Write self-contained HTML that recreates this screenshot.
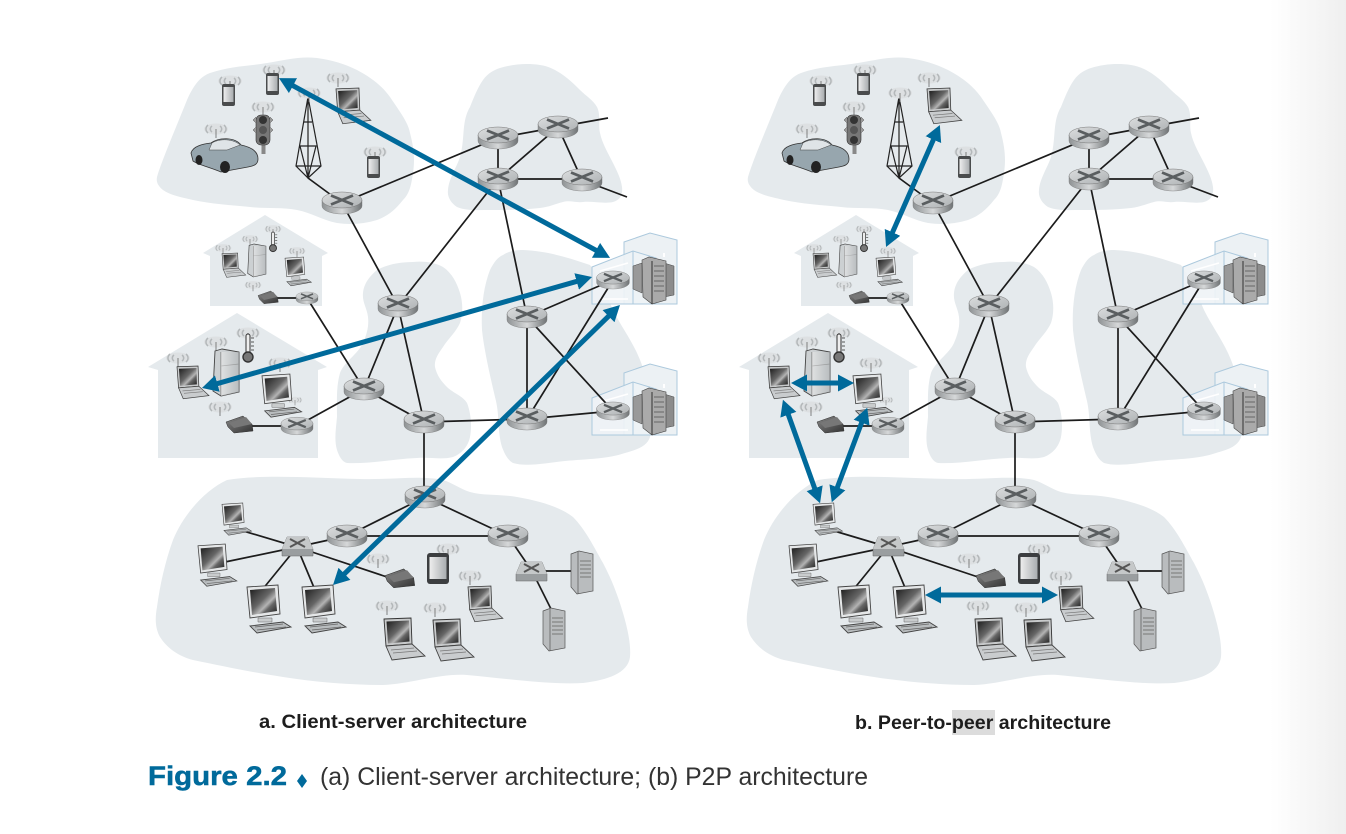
<!DOCTYPE html>
<html><head><meta charset="utf-8"><style>
html,body{margin:0;padding:0;background:#fff}
svg{display:block}
</style></head><body>
<svg xmlns="http://www.w3.org/2000/svg" width="1346" height="834" viewBox="0 0 1346 834">
<defs>
<linearGradient id="edge" x1="0" x2="1" y1="0" y2="0"><stop offset="0" stop-color="#fff"/><stop offset="1" stop-color="#efefef"/></linearGradient>
<linearGradient id="rim" x1="0" x2="1" y1="0" y2="0"><stop offset="0" stop-color="#8e9294"/><stop offset=".5" stop-color="#d6d8d9"/><stop offset="1" stop-color="#6f7375"/></linearGradient>
<linearGradient id="top" x1="0" x2="1" y1="0" y2="1"><stop offset="0" stop-color="#dcdedf"/><stop offset="1" stop-color="#aeb2b4"/></linearGradient>
<linearGradient id="scr" x1="0" x2="1" y1="0" y2="1"><stop offset="0" stop-color="#1c1c1c"/><stop offset=".45" stop-color="#666"/><stop offset=".62" stop-color="#b4b4b4"/><stop offset=".72" stop-color="#666"/><stop offset="1" stop-color="#1c1c1c"/></linearGradient>
<linearGradient id="dev" x1="0" x2="1" y1="0" y2="0"><stop offset="0" stop-color="#eee"/><stop offset="1" stop-color="#a9adb0"/></linearGradient>
<linearGradient id="mod" x1="0" x2="1" y1="0" y2="1"><stop offset="0" stop-color="#888"/><stop offset="1" stop-color="#333"/></linearGradient>
<marker id="ah" markerUnits="userSpaceOnUse" markerWidth="20" markerHeight="20" refX="4" refY="10" orient="auto-start-reverse" viewBox="0 0 20 20"><path d="M0 1.500L16 10L0 18.500Z" fill="#006a9b"/></marker>

<g id="router"><path d="M-20-3v6a20 8 0 0 0 40 0v-6z" fill="url(#rim)" stroke="#777" stroke-width=".4"/><ellipse cy="-3" rx="20" ry="8" fill="url(#top)" stroke="#777" stroke-width=".5"/><path d="M-11-7.500L11 1.500M11-7.500L-11 1.500" stroke="#5a5e60" stroke-width="2.800" fill="none"/></g>
<g id="wifi" fill="none"><ellipse rx="12" ry="5.500" fill="#dde0e2"/><path d="M-4-3a5 4 0 0 0 0 6M4-3a5 4 0 0 1 0 6M-8-4a8 6 0 0 0 0 8M8-4a8 6 0 0 1 0 8" stroke="#b4b8ba" stroke-width="1.500"/><path d="M0 0v9" stroke="#666" stroke-width=".8"/></g>
<g id="desk"><path d="M0 2L31 0L33 29L3 33Z" fill="#e5e7e8" stroke="#444" stroke-width=".9"/><path d="M3 5L28 3L30 26L5 30Z" fill="url(#scr)"/><path d="M11 33h14v4h-14z" fill="#c9cccd" stroke="#666" stroke-width=".5"/><path d="M3 41L36 37L44 42L10 48Z" fill="#b9bdbf" stroke="#444" stroke-width=".9"/><path d="M8 42L36 39M10 45L39 42" stroke="#666" stroke-width=".7"/></g>
<g id="lap"><path d="M0 1L27 0L28 26L2 28Z" fill="#c8cacb" stroke="#333" stroke-width=".9"/><path d="M2.500 3.500L25 2.500L25.500 23.500L4 25.500Z" fill="url(#scr)"/><path d="M2 28L28 26L41 38L8 42Z" fill="#c9ccce" stroke="#444" stroke-width=".9"/><path d="M7 32L30 30M9 35L33 33" stroke="#777" stroke-width=".8"/></g>
<g id="fridge"><path d="M3 2L10 0L27 3V43L9 47L1 42Z" fill="#ccd0d2" stroke="#444" stroke-width=".9"/><path d="M9 3V47" stroke="#666" stroke-width=".8"/><path d="M9 17L27 15" stroke="#777" stroke-width=".7"/><path d="M9 3L27 3V43L9 47Z" fill="url(#dev)" opacity=".55"/></g>
<g id="therm"><path d="M-2-18a2 2 0 0 1 4 0V0h-4z" fill="#eee" stroke="#333" stroke-width="1"/><circle r="5" cy="3" fill="#777" stroke="#333" stroke-width="1.400"/><path d="M3-16h3M3-12h3M3-8h3M3-4h3" stroke="#555"/></g>
<g id="modem"><path d="M0 6L17 0L26 8L27 15L8 17L2 11Z" fill="url(#mod)" stroke="#333" stroke-width=".5"/><path d="M3 7L20 1L26 8L8 12Z" fill="#777"/></g>
<g id="phone"><rect width="13" height="22" rx="2" fill="#4a4c4d"/><rect x="1.500" y="3" width="10" height="15" fill="url(#dev)"/></g>
<g id="tablet"><rect width="22" height="31" rx="3" fill="#3c3e40"/><rect x="2.500" y="4" width="17" height="22" fill="url(#dev)"/></g>
<g id="tower"><path d="M0 3L8 0L22 3V40L6 43L0 36Z" fill="#b9bcbe" stroke="#555" stroke-width=".7"/><path d="M7 1V43" stroke="#555" stroke-width=".7"/><path d="M9 10H20M9 14H20M9 18H20M9 22H20M9 26H20" stroke="#777"/></g>
<g id="switch"><path d="M5 0H26L31 12V19H0V12Z" fill="#9a9ea0" stroke="#666" stroke-width=".5"/><path d="M5 0H26L31 12H0Z" fill="#c5c8c9"/><path d="M8 2L23 10M23 2L8 10" stroke="#555" stroke-width="2"/></g>
<g id="dc"><path d="M32 9L58 0L85 7V71H32Z" fill="#ecf1f4" stroke="#acc9dd" stroke-width="1"/><path d="M0 34L41 18L64 25V71H0Z" fill="#eef3f6" fill-opacity=".9" stroke="#acc9dd" stroke-width="1"/><path d="M41 18V71" stroke="#acc9dd"/><path d="M8 38L36 30M8 66H36" stroke="#fff" stroke-width="1.500"/><path d="M72 20V50" stroke="#fff" stroke-width="2" stroke-dasharray="4 3"/>
<path d="M41 33L50 30V60L41 56Z" fill="#999" stroke="#444" stroke-width=".5"/><path d="M72 30L82 33V62L72 64Z" fill="#8c8c8c" stroke="#444" stroke-width=".5"/><path d="M50 27L57 24L74 28V67L60 71L51 64Z" fill="#aaa" stroke="#444" stroke-width=".6"/><path d="M60 28V71" stroke="#333"/><path d="M62 33H72M62 38H72M62 43H72M62 48H72M62 53H72M62 58H72" stroke="#666"/></g>
<g id="car"><path d="M0 18C2 11 12 9 20 8C28 2 44 2 50 10C60 12 67 16 67 24C67 30 62 31 57 32L30 37C18 32 8 30 2 26Z" fill="#97a6ae" stroke="#333" stroke-width=".8"/><path d="M21 8C29 3 43 4 49 10L36 15L18 15Z" fill="#dfe4e7" stroke="#444" stroke-width=".5"/><ellipse cx="34" cy="32" rx="5" ry="6" fill="#222"/><ellipse cx="8" cy="25" rx="3.500" ry="5" fill="#222"/></g>
<g id="light"><path d="M-1.500 20h4v19h-4z" fill="#888"/><rect x="-7" y="0" width="14" height="30" rx="5" fill="#777" stroke="#333" stroke-width=".6"/><circle cy="5" r="4" fill="#333"/><circle cy="15" r="4" fill="#555"/><circle cy="25" r="4" fill="#333"/><path d="M-7 2l-3 3 3 3M7 2l3 3-3 3M-7 12l-3 3 3 3M7 12l3 3-3 3" fill="#999" stroke="#555" stroke-width=".5"/></g>

<g id="net">
<g fill="#e5eaed">
<path d="M157 177C162 160 175 130 187 100C195 82 202 76 210 73C230 66 250 66 267 63C285 60 300 56 317 58C332 60 345 64 357 70C372 78 382 86 390 97C400 112 408 122 410 133C414 148 415 160 413 173C411 187 409 194 403 200C395 210 388 216 377 220C364 224 350 225 337 223C322 220 312 213 297 210C282 207 266 209 250 207C230 205 212 204 193 200C180 197 170 195 163 190C158 186 156 182 157 177Z"/>
<path d="M464 127C465 118 467 112 470 107C474 97 478 87 483 80C488 73 494 70 500 68C513 64 527 63 540 65C548 66 556 70 563 75C570 80 575 85 580 90C586 96 593 100 597 107C601 115 598 125 600 133C602 143 608 153 613 163C617 171 621 179 622 187C623 195 620 200 613 202C604 204 593 201 583 202C576 203 570 200 563 202C555 204 549 207 540 208C523 210 506 210 490 210C478 210 466 211 457 207C451 203 447 197 448 190C449 178 456 169 460 157C463 146 463 136 464 127Z"/>
<path d="M413 262C423 261 434 262 443 267C452 273 457 283 460 293C463 303 463 314 460 323C456 332 448 339 443 347C438 354 434 360 435 367C437 376 442 382 447 387C453 393 463 396 467 403C471 413 472 426 470 437C468 447 461 454 453 457C442 460 430 457 417 458C394 459 370 464 347 463C342 462 339 456 337 450C334 440 336 428 337 417C337 402 336 387 340 373C344 362 358 354 363 343C367 334 369 326 368 317C367 308 362 302 363 293C364 283 370 276 377 270C388 264 401 262 413 262Z"/>
<path d="M523 250C548 251 569 258 590 265C600 279 607 296 613 310C621 326 630 338 637 353C644 368 650 388 650 403C651 418 652 428 650 437C647 447 635 450 625 453C608 459 586 459 565 461C547 463 526 467 513 463C508 460 505 455 502 447C497 430 500 415 495 397C491 380 484 350 482 330C481 310 483 288 490 270C494 262 498 257 503 255C509 251 516 250 523 250Z"/>
<path d="M227 480C265 474 310 478 360 479C390 480 420 475 443 480C453 483 460 489 470 492C485 496 500 494 517 497C540 501 560 507 573 517C585 529 594 547 603 563C612 580 618 596 623 613C628 630 631 645 630 657C628 673 608 680 583 683C552 685 510 679 467 675C440 673 410 684 383 685C350 685 315 682 283 677C250 672 222 666 193 660C178 656 167 648 160 637C155 628 155 618 157 607C160 585 165 562 173 540C183 515 205 490 227 480Z"/>
<path d="M265 215L328 253L322 256V306H210V256L203 253Z"/>
<path d="M237 313L327 367L318 370V458H158V370L148 367Z"/>
</g>
<use href="#dc" x="592" y="233"/><use href="#dc" x="592" y="364"/>
<g stroke="#1c1c1c" stroke-width="1.700" fill="none">
<path d="M308 178L342 203M342 203L498 138L558 127L608 118M342 203L398 306M498 138V179M558 127L498 179M558 127L582 180M498 179H582M582 180L627 197M498 179L398 306M498 179L527 317"/>
<path d="M398 306L364 389M398 306L424 422M364 389L424 422M364 389L307 298M364 389L297 426M424 422L527 419M424 422V497M527 317V419M527 317L613 280M527 317L613 411M527 419L613 280M527 419L613 411M307 298H268M297 426H245"/>
<path d="M425 497L347 536M425 497L508 536M347 536H508M347 536L297 547M297 547L240 530M297 547L225 562M297 547L262 590M297 547L315 590M297 547L390 578M508 536L532 571M532 571H575M532 571L554 615"/>
</g>
<use href="#router" x="342" y="203"/><use href="#router" x="498" y="138"/><use href="#router" x="558" y="127"/><use href="#router" x="498" y="179"/><use href="#router" x="582" y="180"/>
<use href="#router" x="398" y="306"/><use href="#router" x="364" y="389"/><use href="#router" x="424" y="422"/><use href="#router" x="527" y="317"/><use href="#router" x="527" y="419"/>
<use href="#router" x="425" y="497"/><use href="#router" x="347" y="536"/><use href="#router" x="508" y="536"/>
<use href="#router" transform="translate(307 298) scale(.55)"/><use href="#router" transform="translate(297 426) scale(.8)"/>
<use href="#router" transform="translate(613 280) scale(.82)"/><use href="#router" transform="translate(613 411) scale(.82)"/>

<g stroke="#222" stroke-width="1.200" fill="none"><path d="M308 97L296 166L308 178L321 166ZM308 97V178M304 122H312M300 146H316L308 178L300 146M296 166H321"/></g>

<use href="#wifi" x="230" y="81"/><use href="#wifi" x="274" y="70"/><use href="#wifi" x="338" y="78"/><use href="#wifi" x="263" y="107"/><use href="#wifi" x="216" y="129"/><use href="#wifi" x="309" y="93"/><use href="#wifi" x="375" y="152"/>
<use href="#wifi" x="378" y="559"/><use href="#wifi" x="448" y="549"/><use href="#wifi" x="470" y="576"/><use href="#wifi" x="387" y="606"/><use href="#wifi" x="435" y="608"/>
<use href="#wifi" transform="translate(223 248) scale(.7)"/><use href="#wifi" transform="translate(250 239) scale(.7)"/><use href="#wifi" transform="translate(273 229) scale(.7)"/><use href="#wifi" transform="translate(297 251) scale(.7)"/><use href="#wifi" transform="translate(253 285) scale(.7)"/>
<use href="#wifi" x="178" y="358"/><use href="#wifi" x="216" y="342"/><use href="#wifi" x="248" y="333"/><use href="#wifi" x="280" y="363"/><use href="#wifi" x="220" y="407"/><use href="#wifi" transform="translate(295 400) scale(.6)"/>

<use href="#phone" x="222" y="84"/><use href="#phone" x="266" y="73"/><use href="#phone" x="367" y="156"/><use href="#tablet" x="427" y="553"/>
<use href="#lap" transform="translate(336 88) scale(.85)"/><use href="#light" x="263" y="115"/><use href="#car" x="191" y="135"/>

<use href="#lap" transform="translate(222 253) scale(.58)"/><use href="#fridge" transform="translate(247 244) scale(.7)"/><use href="#therm" transform="translate(273 246) scale(.7)"/><use href="#desk" transform="translate(285 257) scale(.6)"/><use href="#modem" transform="translate(258 291) scale(.75)"/>
<use href="#lap" transform="translate(177 366) scale(.78)"/><use href="#fridge" x="212" y="349"/><use href="#therm" x="248" y="354"/><use href="#desk" transform="translate(262 374) scale(.9)"/><use href="#modem" x="226" y="416"/>

<use href="#switch" x="282" y="537"/><use href="#switch" x="516" y="562"/>
<use href="#desk" transform="translate(222 503) scale(.67)"/><use href="#desk" transform="translate(198 544) scale(.88)"/><use href="#desk" x="247" y="585"/><use href="#desk" x="302" y="585"/>
<use href="#modem" transform="translate(385 569) scale(1.1)"/>
<use href="#lap" x="384" y="618"/><use href="#lap" x="433" y="619"/><use href="#lap" transform="translate(468 586) scale(.85)"/>
<use href="#tower" x="571" y="551"/><use href="#tower" x="543" y="608"/>
</g>
</defs>

<rect x="1270" width="76" height="834" fill="url(#edge)"/>
<use href="#net"/>
<use href="#net" x="591"/>

<g stroke="#006a9b" stroke-width="5" fill="none">
<line x1="289.500" y1="83.800" x2="599.500" y2="252.200" marker-start="url(#ah)" marker-end="url(#ah)"/>
<line x1="213.500" y1="384.700" x2="580.500" y2="280.300" marker-start="url(#ah)" marker-end="url(#ah)"/>
<line x1="341.600" y1="576.600" x2="611.400" y2="313.400" marker-start="url(#ah)" marker-end="url(#ah)"/>
<line x1="890.900" y1="236" x2="935" y2="136" marker-start="url(#ah)" marker-end="url(#ah)"/>
<line x1="803" y1="383" x2="842" y2="383" marker-start="url(#ah)" marker-end="url(#ah)"/>
<line x1="787" y1="411" x2="816" y2="492" marker-start="url(#ah)" marker-end="url(#ah)"/>
<line x1="863" y1="419" x2="836" y2="491" marker-start="url(#ah)" marker-end="url(#ah)"/>
<line x1="937" y1="595" x2="1046" y2="595" marker-start="url(#ah)" marker-end="url(#ah)"/>
</g>

<rect x="952" y="710" width="43" height="25" fill="#dcdcdc"/>
<g font-family="'Liberation Sans',sans-serif">
<text x="259" y="728" font-size="19" font-weight="700" fill="#1d1d1d" textLength="268" lengthAdjust="spacingAndGlyphs">a. Client-server architecture</text>
<text x="855" y="729" font-size="19" font-weight="700" fill="#1d1d1d" textLength="256" lengthAdjust="spacingAndGlyphs">b. Peer-to-peer architecture</text>
<text x="148" y="785" font-size="27" font-weight="700" fill="#006a9b" stroke="#006a9b" stroke-width=".5" textLength="139" lengthAdjust="spacingAndGlyphs">Figure 2.2</text>
<path d="M302 774L307 781L302 788L297 781Z" fill="#006a9b"/>
<text x="320" y="785" font-size="25" fill="#333" textLength="548" lengthAdjust="spacingAndGlyphs">(a) Client-server architecture; (b) P2P architecture</text>
</g>
</svg>
</body></html>
